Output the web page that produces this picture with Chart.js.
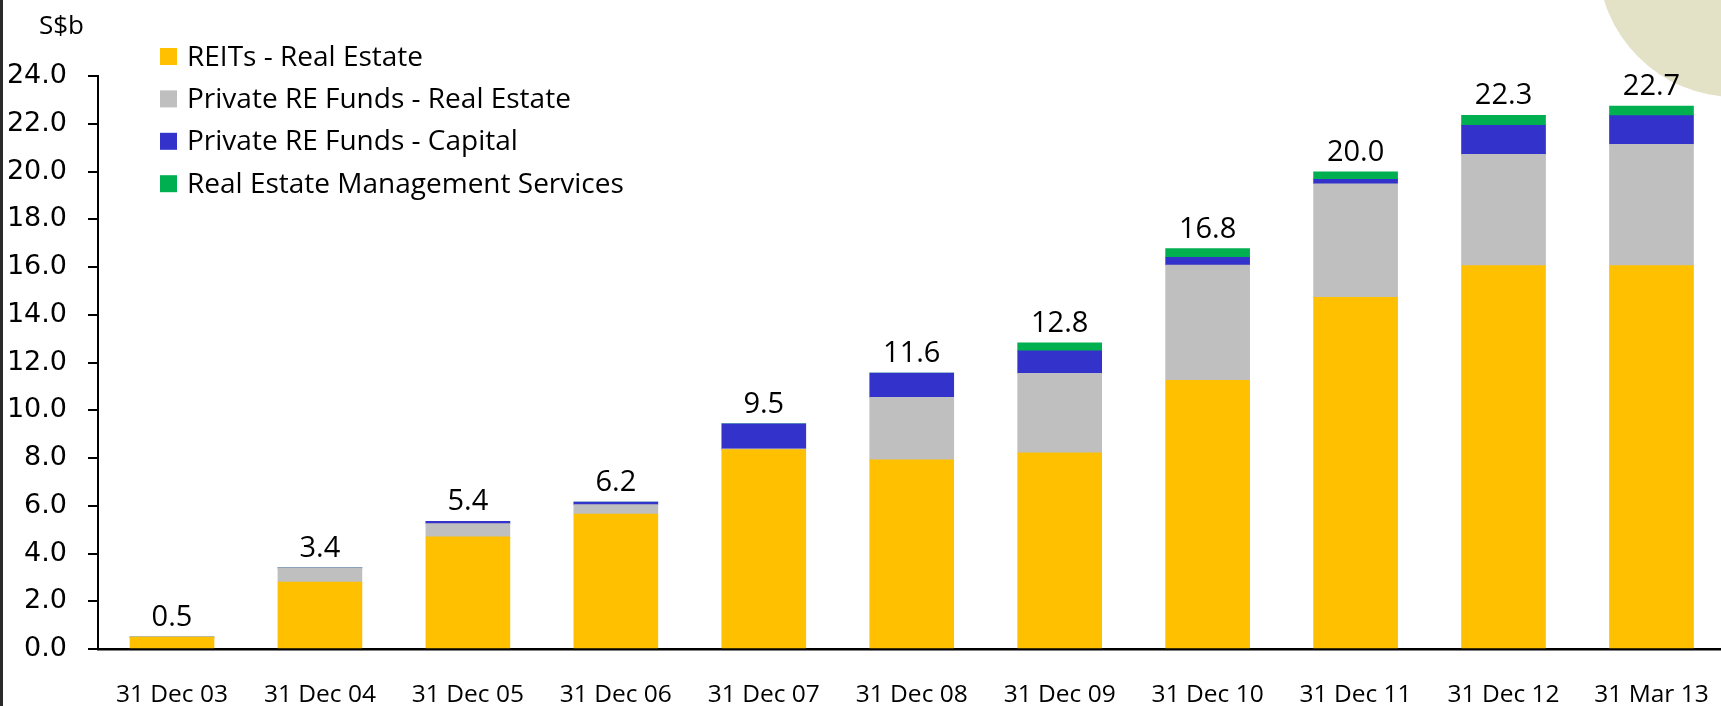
<!DOCTYPE html>
<html><head><meta charset="utf-8">
<script src="https://cdn.jsdelivr.net/npm/chart.js@4/dist/chart.umd.min.js"></script>
<style>
html,body{margin:0;padding:0;background:#fff;overflow:hidden;width:1721px;height:706px;}
#wrap{position:relative;width:1721px;height:706px;overflow:hidden;}
#circle{position:absolute;left:1598px;top:-177px;width:274px;height:274px;border-radius:50%;background:#e3e1c6;}
#edge{position:absolute;left:0;top:0;width:3px;height:706px;background:#2a2a2a;}
canvas{position:absolute;left:0;top:0;}
</style></head><body>
<div id="wrap"><div id="circle"></div><canvas id="c" width="1740" height="706"></canvas><div id="edge"></div></div>
<script>
const categories = ["31 Dec 03","31 Dec 04","31 Dec 05","31 Dec 06","31 Dec 07","31 Dec 08","31 Dec 09","31 Dec 10","31 Dec 11","31 Dec 12","31 Mar 13"];
const reitsRealEstate     = [0.5, 2.8, 4.7, 5.65, 8.35, 7.92, 8.22, 11.25, 14.73, 16.06, 16.06];
const privateRealEstate   = [0, 0.6, 0.55, 0.4, 0.03, 2.62, 3.33, 4.83, 4.75, 4.66, 5.08];
const privateCapital      = [0, 0, 0.1, 0.1, 1.05, 1.02, 0.94, 0.33, 0.19, 1.21, 1.2];
const mgmtServices        = [0, 0, 0, 0, 0, 0, 0.33, 0.36, 0.32, 0.42, 0.4];
const totals              = [0.5, 3.4, 5.4, 6.2, 9.5, 11.6, 12.8, 16.8, 20.0, 22.3, 22.7];
const yTickValues         = [0, 2, 4, 6, 8, 10, 12, 14, 16, 18, 20, 22, 24];
const seriesNames = ["REITs - Real Estate","Private RE Funds - Real Estate","Private RE Funds - Capital","Real Estate Management Services"];
const seriesColors = ["#FFC000","#BFBFBF","#3333CC","#00B050"];
const unitLabel = "S$b";

const seriesValues = [reitsRealEstate, privateRealEstate, privateCapital, mgmtServices];

const overlay = {
  id: 'overlay',
  afterDatasetsDraw(chart) {
    const ctx = chart.ctx, xs = chart.scales.x, ys = chart.scales.y;
    ctx.save();
    ctx.font = '29px "Open Sans"';
    ctx.fillStyle = '#000';
    ctx.textAlign = 'center';
    ctx.textBaseline = 'alphabetic';
    totals.forEach((t, i) => {
      const sum = seriesValues.reduce((a, s) => a + s[i], 0);
      ctx.fillText(t.toFixed(1), xs.getPixelForValue(i), ys.getPixelForValue(sum) - 11);
    });
    ctx.restore();
  },
  afterDraw(chart) {
    const ctx = chart.ctx;
    ctx.save();
    ctx.font = '28px "Open Sans"';
    ctx.textAlign = 'left';
    ctx.textBaseline = 'alphabetic';
    chart.data.datasets.forEach((ds, i) => {
      const top = 48 + i * 42.4;
      ctx.fillStyle = ds.backgroundColor;
      ctx.fillRect(160, top, 17, 17);
      ctx.fillStyle = '#000';
      ctx.fillText(ds.label, 187, top + 17.5);
    });
    ctx.font = '26px "Open Sans"';
    ctx.fillText(unitLabel, 39, 34);
    ctx.restore();
  }
};

new Chart(document.getElementById('c'), {
  type: 'bar',
  data: {
    labels: categories,
    datasets: seriesValues.map((vals, i) => ({
      label: seriesNames[i],
      data: vals,
      backgroundColor: seriesColors[i],
      borderWidth: 0,
      barThickness: 84
    }))
  },
  options: {
    responsive: false,
    animation: false,
    devicePixelRatio: 1,
    layout: { padding: { top: 76, right: 6.6, left: 0, bottom: 0 } },
    plugins: { legend: { display: false }, tooltip: { enabled: false } },
    scales: {
      x: {
        stacked: true,
        grid: { display: false, drawTicks: false },
        border: { display: true, color: '#000', width: 2.5 },
        ticks: { color: '#000', font: { family: '"Open Sans"', size: 24.5 }, padding: 31, maxRotation: 0, autoSkip: false },
        afterFit(s) { s.height = 57; }
      },
      y: {
        stacked: true,
        min: 0, max: 24,
        afterBuildTicks(s) { s.ticks = yTickValues.map(v => ({ value: v })); },
        grid: { drawOnChartArea: false, drawTicks: true, tickLength: 10, color: '#000', lineWidth: 2 },
        border: { display: true, color: '#000', width: 2 },
        ticks: { color: '#000', font: { family: '"DejaVu Sans"', size: 27 }, padding: 21, callback: v => Number(v).toFixed(1) },
        afterFit(s) { s.width = 98; }
      }
    }
  },
  plugins: [overlay]
});
</script>
</body></html>
